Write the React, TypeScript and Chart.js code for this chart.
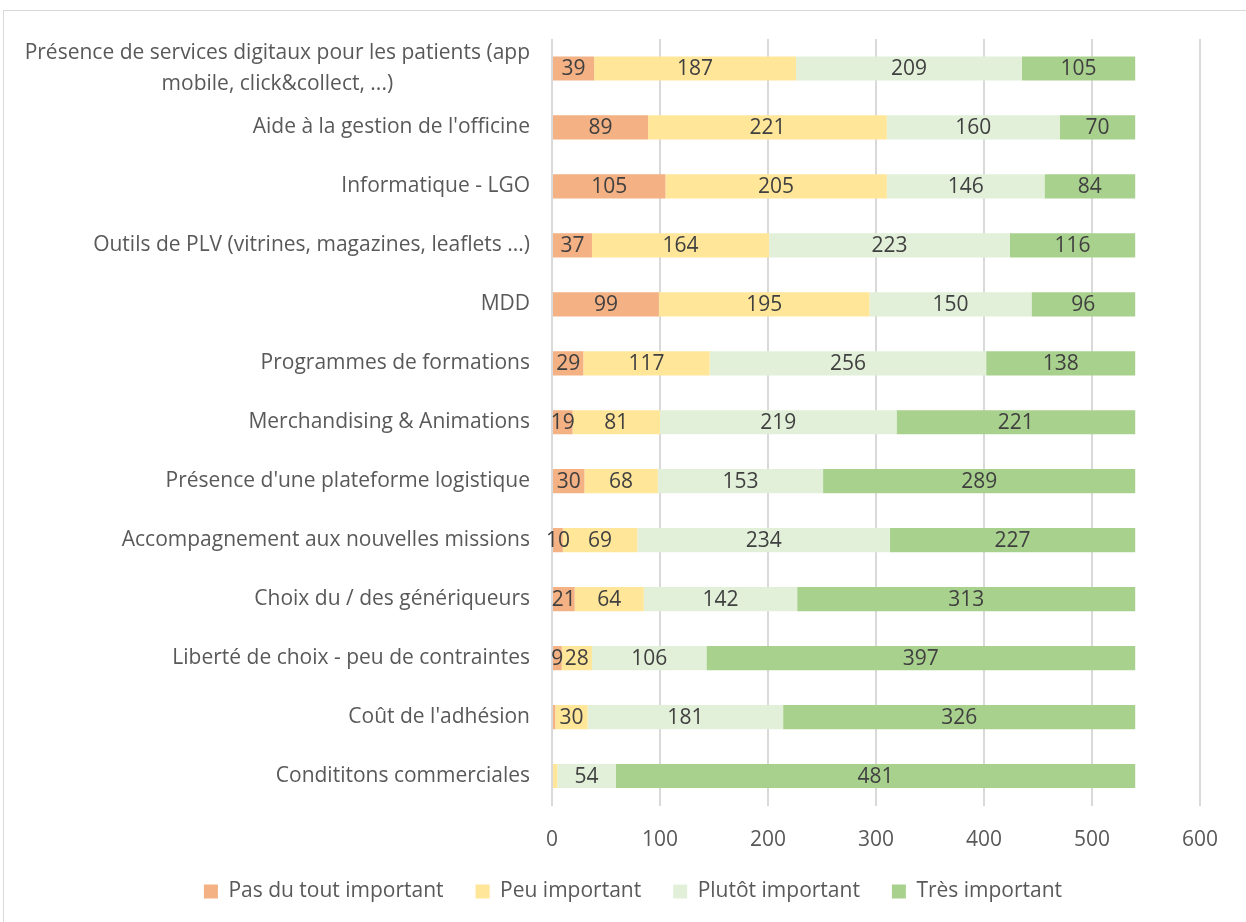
import React, { useEffect, useRef } from "react";
import { Chart, registerables } from "chart.js";

Chart.register(...registerables);

const FONT = "'Open Sans', sans-serif";
const FONT_SIZE = 21;

const categories: (string | string[])[] = [
  ["Présence de services digitaux pour les patients (app", "mobile, click&collect, ...)"],
  "Aide à la gestion de l'officine",
  "Informatique - LGO",
  "Outils de PLV (vitrines, magazines, leaflets ...)",
  "MDD",
  "Programmes de formations",
  "Merchandising & Animations",
  "Présence d'une plateforme logistique",
  "Accompagnement aux nouvelles missions",
  "Choix du / des génériqueurs",
  "Liberté de choix - peu de contraintes",
  "Coût de l'adhésion",
  "Condititons commerciales",
];

const seriesNames = ["Pas du tout important", "Peu important", "Plutôt important", "Très important"];
const seriesColors = ["#F4B183", "#FFE699", "#E2F0D9", "#A9D18E"];

const pasDuTout = [39, 89, 105, 37, 99, 29, 19, 30, 10, 21, 9, 3, 1];
const peu = [187, 221, 205, 164, 195, 117, 81, 68, 69, 64, 28, 30, 4];
const plutot = [209, 160, 146, 223, 150, 256, 219, 153, 234, 142, 106, 181, 54];
const tres = [105, 70, 84, 116, 96, 138, 221, 289, 227, 313, 397, 326, 481];

const xTicks = [0, 100, 200, 300, 400, 500, 600];

const segLabels = {
  id: "segLabels",
  afterDatasetsDraw(chart: any) {
    const ctx = chart.ctx;
    ctx.save();
    ctx.font = `${FONT_SIZE}px ${FONT}`;
    ctx.fillStyle = "#404040";
    ctx.textAlign = "center";
    ctx.textBaseline = "middle";
    chart.data.datasets.forEach((ds: any, di: number) => {
      const meta = chart.getDatasetMeta(di);
      meta.data.forEach((bar: any, i: number) => {
        const v = ds.data[i];
        if (v < 5) return;
        const p = bar.getProps(["x", "base", "y"], true);
        ctx.fillText(String(v), (p.x + p.base) / 2, p.y + 1);
      });
    });
    ctx.restore();
  },
};

const yLabels = {
  id: "yLabels",
  afterDraw(chart: any) {
    const ctx = chart.ctx;
    const ys = chart.scales.y;
    ctx.save();
    ctx.font = `${FONT_SIZE}px ${FONT}`;
    ctx.fillStyle = "#595959";
    ctx.textAlign = "center";
    ctx.textBaseline = "middle";
    const right = ys.right - 22;
    const lh = 31;
    categories.forEach((c, i) => {
      const y = ys.getPixelForTick(i);
      const lines = Array.isArray(c) ? c : [c];
      const maxW = Math.max(...lines.map((l) => ctx.measureText(l).width));
      lines.forEach((l, j) => {
        const ly = y + (j - (lines.length - 1) / 2) * lh;
        ctx.fillText(l, right - maxW / 2, ly);
      });
    });
    ctx.restore();
  },
};

export default function App() {
  const ref = useRef<HTMLCanvasElement>(null);
  useEffect(() => {
    document.body.style.overflow = "hidden";
    Chart.defaults.font.family = FONT;
    Chart.defaults.font.size = FONT_SIZE;
    Chart.defaults.color = "#595959";
    const series = [pasDuTout, peu, plutot, tres];
    const chart = new Chart(ref.current as HTMLCanvasElement, {
      type: "bar",
      data: {
        labels: categories as any,
        datasets: series.map((d, i) => ({
          label: seriesNames[i],
          data: d,
          backgroundColor: seriesColors[i],
          borderWidth: 0,
          barPercentage: 0.41,
          categoryPercentage: 1,
        })),
      },
      options: {
        indexAxis: "y",
        responsive: false,
        animation: false,
        layout: { padding: { top: 39, right: 46, left: 66, bottom: 10 } },
        scales: {
          x: {
            stacked: true,
            min: 0,
            max: 600,
            afterBuildTicks: (scale: any) => {
              scale.ticks = xTicks.map((v) => ({ value: v }));
            },
            afterFit: (scale: any) => {
              scale.height = 43.5;
            },
            grid: { color: "#d9d9d9", lineWidth: 2, drawTicks: false },
            border: { display: false },
            ticks: { padding: 22, color: "#595959", font: { size: FONT_SIZE, family: FONT } },
          },
          y: {
            stacked: true,
            afterFit: (scale: any) => {
              scale.width = 486;
            },
            grid: { display: false },
            border: { display: false },
            ticks: { display: false },
          },
        },
        plugins: {
          tooltip: { enabled: false },
          legend: {
            position: "bottom",
            labels: {
              boxWidth: 14,
              boxHeight: 14,
              padding: 32,
              color: "#595959",
              font: { size: FONT_SIZE, family: FONT },
            },
          },
        },
      },
      plugins: [segLabels, yLabels],
    });
    return () => chart.destroy();
  }, []);
  return (
    <div>
      <div style={{ position: "fixed", left: 0, top: 0, width: 1246, height: 922 }}>
        <canvas ref={ref} width={1246} height={922} style={{ display: "block" }} />
      </div>
      <div
        style={{
          position: "fixed",
          left: 3,
          top: 10,
          width: 1260,
          height: 930,
          border: "1px solid #d9d9d9",
          pointerEvents: "none",
        }}
      />
    </div>
  );
}
